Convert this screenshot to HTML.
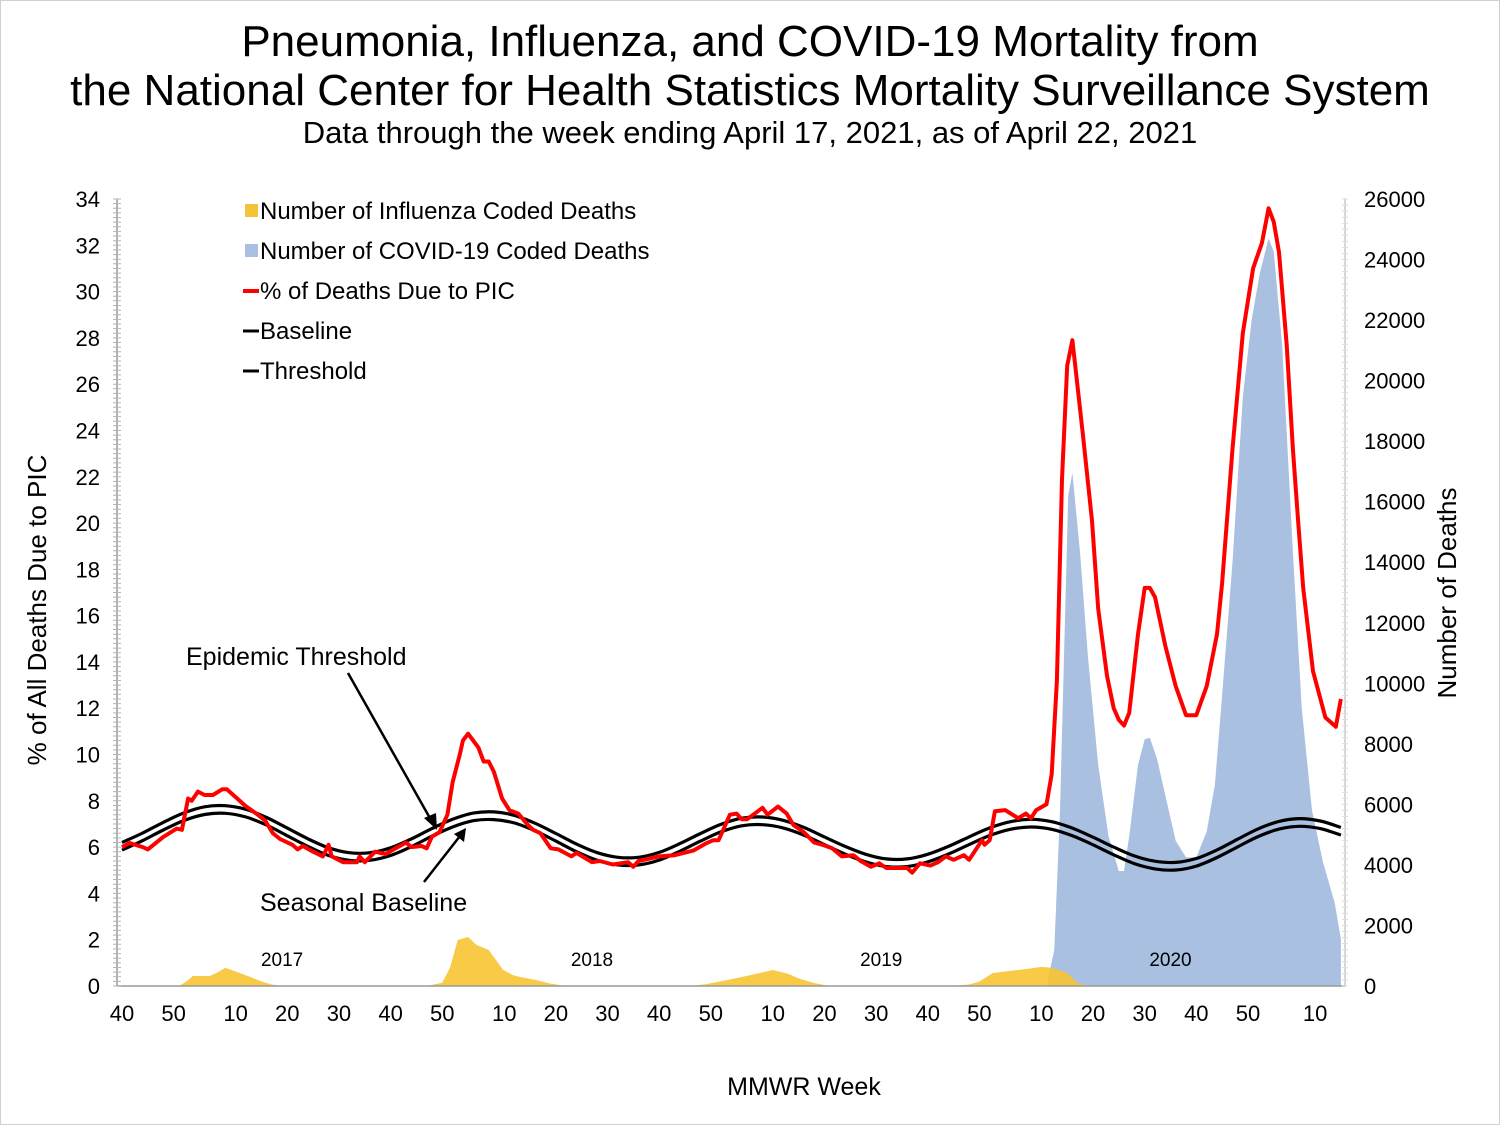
<!DOCTYPE html>
<html><head><meta charset="utf-8">
<style>
html,body{margin:0;padding:0;background:#fff;}
svg{display:block;font-family:"Liberation Sans",Arial,sans-serif;}
</style></head>
<body>
<svg id="chart" width="1500" height="1125" viewBox="0 0 1500 1125" xmlns="http://www.w3.org/2000/svg">
<rect x="0.5" y="0.5" width="1499" height="1124" fill="#fff" stroke="#d0d0d0"/>
<text x="750" y="56" text-anchor="middle" font-size="44">Pneumonia, Influenza, and COVID-19 Mortality from</text>
<text x="750" y="105" text-anchor="middle" font-size="44">the National Center for Health Statistics Mortality Surveillance System</text>
<text x="750" y="143" text-anchor="middle" font-size="31">Data through the week ending April 17, 2021, as of April 22, 2021</text>
<g id="areas"></g>
<g id="lines"></g>
<g id="axes"></g>
<g font-size="24">
  <rect x="245" y="204" width="13" height="13" fill="#F5C33A"/>
  <text x="260" y="219">Number of Influenza Coded Deaths</text>
  <rect x="245" y="244" width="13" height="13" fill="#A9C0E0"/>
  <text x="260" y="259">Number of COVID-19 Coded Deaths</text>
  <line x1="243" y1="291" x2="259" y2="291" stroke="#f00" stroke-width="4"/>
  <text x="260" y="299">% of Deaths Due to PIC</text>
  <line x1="243" y1="331" x2="259" y2="331" stroke="#000" stroke-width="3"/>
  <text x="260" y="339">Baseline</text>
  <line x1="243" y1="371" x2="259" y2="371" stroke="#000" stroke-width="3"/>
  <text x="260" y="379">Threshold</text>
</g>
<g>
  <text x="186" y="665" font-size="25">Epidemic Threshold</text>
  <line x1="348" y1="673" x2="431" y2="820" stroke="#000" stroke-width="2.5"/>
  <polygon points="437,830 424,818 436,813" fill="#000"/>
  <text x="260" y="911" font-size="25">Seasonal Baseline</text>
  <line x1="424" y1="882" x2="460" y2="836" stroke="#000" stroke-width="2.5"/>
  <polygon points="466,828 454,834 464,842" fill="#000"/>
</g>
<text x="804" y="1095" text-anchor="middle" font-size="25">MMWR Week</text>
<text transform="translate(46,610) rotate(-90)" text-anchor="middle" font-size="26">% of All Deaths Due to PIC</text>
<text transform="translate(1456,593) rotate(-90)" text-anchor="middle" font-size="26">Number of Deaths</text>
</svg>
<script>
// ---- data (week index 0 = 2016 week 40) ----
const xTickWeeks = [0,10,22,32,42,52,62,74,84,94,104,114,126,136,146,156,166,178,188,198,208,218,231];
const xTickLabels = ["40","50","10","20","30","40","50","10","20","30","40","50","10","20","30","40","50","10","20","30","40","50","10"];
const yearWeeks = [31,91,147,203];
const yearLabels = ["2017","2018","2019","2020"];
const leftTicks = [0,2,4,6,8,10,12,14,16,18,20,22,24,26,28,30,32,34];
const rightTicks = [0,2000,4000,6000,8000,10000,12000,14000,16000,18000,20000,22000,24000,26000];

const picWeeks = [0,1.5,4,5,8,10.6,11.6,12.8,13.5,14.7,16,17.6,19.4,20.3,22.3,23.8,26,27.7,29.2,30.6,33,34,35,37,38.9,40,40.6,42.8,45.5,46,47,49,51,53,55,56,58,59,60,61.5,63,64,65.4,66,67,69,70,71,72,73.6,75,76.7,78.6,79.6,81,83,84.5,87,88,91,92.5,95,98,99,100,104,107,110.6,113,114.5,115.5,117.7,119,120,121,124,125,127,128.7,130,132,134,135.6,137.5,139.4,141.6,143,145,146.6,148,152,153,154.5,156.5,158,159.5,161,163,164,166.5,167,168,169,171,173.5,175,176,177,179,180,181,182,183,184,186,187.8,189,190.7,192,193,194,195,196.7,198,199,200,202,204,206,208,210,212,213,215,217,219,220.7,222,223,224,225.5,226.7,227.7,228.7,230.6,233,235,236];
const picValues = [6.0,6.18,6.0,5.9,6.44,6.8,6.75,8.1,8.0,8.4,8.25,8.25,8.5,8.5,8.1,7.8,7.45,7.15,6.6,6.35,6.1,5.9,6.05,5.8,5.6,6.1,5.6,5.35,5.35,5.6,5.35,5.8,5.7,5.95,6.2,6.0,6.05,5.95,6.45,6.65,7.4,8.8,10.0,10.6,10.9,10.3,9.7,9.7,9.25,8.1,7.6,7.45,6.95,6.75,6.6,5.95,5.9,5.6,5.75,5.35,5.4,5.25,5.35,5.15,5.4,5.6,5.65,5.85,6.15,6.3,6.3,7.4,7.45,7.2,7.2,7.7,7.4,7.75,7.45,6.95,6.65,6.2,6.1,5.95,5.6,5.65,5.4,5.15,5.3,5.1,5.1,4.9,5.3,5.2,5.35,5.6,5.45,5.65,5.45,6.3,6.1,6.3,7.55,7.6,7.25,7.45,7.25,7.6,7.85,9.15,13.2,21.9,26.8,27.9,23.9,20.1,16.3,13.4,12.0,11.5,11.25,11.8,15.2,17.2,17.2,16.8,14.7,12.95,11.7,11.7,12.95,15.2,17.4,23.2,28.2,31.0,32.1,33.6,33.0,31.7,27.7,23.2,20.1,17.2,13.6,11.6,11.2,12.4];

const baseWeeks = [0,4,8,12,16,20,24,28,32,36,40,44,48,52,56,60,64,68,72,76,80,84,88,92,96,100,104,108,112,116,120,124,128,132,136,140,144,148,152,156,160,164,168,172,176,180,184,188,192,196,200,204,208,212,216,220,224,228,232,236];
const baselineValues = [5.87,6.28,6.74,7.15,7.41,7.46,7.30,6.95,6.49,6.03,5.64,5.43,5.43,5.64,6.02,6.47,6.87,7.14,7.19,7.04,6.70,6.26,5.80,5.43,5.23,5.23,5.44,5.82,6.26,6.66,6.92,6.97,6.83,6.52,6.11,5.70,5.36,5.16,5.16,5.36,5.70,6.11,6.50,6.77,6.87,6.77,6.49,6.10,5.67,5.29,5.06,5.01,5.18,5.55,6.01,6.46,6.78,6.90,6.80,6.52];
const thresholdValues = [6.20,6.61,7.07,7.48,7.74,7.79,7.63,7.28,6.82,6.36,5.97,5.76,5.76,5.97,6.35,6.80,7.20,7.47,7.52,7.37,7.03,6.59,6.13,5.76,5.56,5.56,5.77,6.15,6.59,6.99,7.25,7.30,7.16,6.85,6.44,6.03,5.69,5.49,5.49,5.69,6.03,6.44,6.83,7.10,7.20,7.10,6.82,6.43,6.00,5.62,5.39,5.34,5.51,5.88,6.34,6.79,7.11,7.23,7.13,6.85];

const covidWeeks = [179,180.5,181.6,183.2,184,185.5,187,189,191,193,194,195,196.7,198,199,200.4,202,204,206,208,210,211.6,213,215,217,218.7,220.3,222,223,224.6,226.7,228.4,230.4,232.5,234.8,236];
const covidDeaths = [0,1200,5800,16200,16950,14300,10900,7300,4950,3800,3800,4950,7300,8150,8200,7500,6300,4800,4250,4250,5100,6650,9600,14000,19450,22000,23550,24700,24250,21200,14350,9200,5800,4100,2750,1550];

const fluWeeks = [0,11,12.5,13.7,17,18.5,20,22,24.8,27,29,31,59,62,63.5,65,67,68.7,71,73.8,75.7,77,80,83,86,110,113,119,123.5,126,129,131,134,137,160,164,166,168.6,172,176,178,180,183,185,187,236];
const fluDeaths = [0,0,150,330,330,450,600,480,300,150,50,0,0,110,600,1520,1620,1350,1190,530,360,300,200,80,0,0,60,260,430,530,400,250,100,0,0,50,150,430,500,580,630,600,430,100,0,0];

// ---- scales ----
const X0 = 122, XSTEP = 5.165, Y0 = 986, YTOP = 199;
function xs(w){ return X0 + w*XSTEP; }
function yL(v){ return Y0 - v*(Y0-YTOP)/34; }
function yR(d){ return Y0 - d*(Y0-YTOP)/26000; }
const NS = "http://www.w3.org/2000/svg";
function mk(tag, parent){ const e=document.createElementNS(NS,tag); parent.appendChild(e); return e; }

const areas = document.getElementById('areas');
const lines = document.getElementById('lines');
const axes = document.getElementById('axes');

function areaPath(ws, vs){
  let d = "M"+xs(ws[0]).toFixed(1)+","+Y0;
  for(let i=0;i<ws.length;i++) d += " L"+xs(ws[i]).toFixed(1)+","+yR(vs[i]).toFixed(1);
  d += " L"+xs(ws[ws.length-1]).toFixed(1)+","+Y0+" Z";
  return d;
}
function linePath(ws, vs){
  let d="";
  for(let i=0;i<ws.length;i++) d += (i?" L":"M")+xs(ws[i]).toFixed(1)+","+yL(vs[i]).toFixed(1);
  return d;
}
function smoothPath(ws, vs){
  const p = ws.map((w,i)=>[xs(w), yL(vs[i])]);
  let d = "M"+p[0][0].toFixed(1)+","+p[0][1].toFixed(1);
  for(let i=0;i<p.length-1;i++){
    const p0=p[Math.max(0,i-1)], p1=p[i], p2=p[i+1], p3=p[Math.min(p.length-1,i+2)];
    const c1=[p1[0]+(p2[0]-p0[0])/6, p1[1]+(p2[1]-p0[1])/6];
    const c2=[p2[0]-(p3[0]-p1[0])/6, p2[1]-(p3[1]-p1[1])/6];
    d += " C"+c1[0].toFixed(1)+","+c1[1].toFixed(1)+" "+c2[0].toFixed(1)+","+c2[1].toFixed(1)+" "+p2[0].toFixed(1)+","+p2[1].toFixed(1);
  }
  return d;
}

// covid area
const cov = mk('path', areas);
cov.setAttribute('d', areaPath(covidWeeks, covidDeaths));
cov.setAttribute('fill', '#A9C0E0');


// flu area
const flu = mk('path', areas);
flu.setAttribute('d', areaPath(fluWeeks, fluDeaths));
flu.setAttribute('fill', '#F7C431');
flu.setAttribute('fill-opacity', '0.9');



// threshold & baseline
const thr = mk('path', lines);
thr.setAttribute('d', smoothPath(baseWeeks, thresholdValues));
thr.setAttribute('fill', 'none'); thr.setAttribute('stroke', '#000'); thr.setAttribute('stroke-width', '3.2');


const bas = mk('path', lines);
bas.setAttribute('d', smoothPath(baseWeeks, baselineValues));
bas.setAttribute('fill', 'none'); bas.setAttribute('stroke', '#000'); bas.setAttribute('stroke-width', '3.2');


// PIC line
const pic = mk('path', lines);
pic.setAttribute('d', linePath(picWeeks, picValues));
pic.setAttribute('fill', 'none'); pic.setAttribute('stroke', '#FF0000'); pic.setAttribute('stroke-width', '4');
pic.setAttribute('stroke-linejoin', 'round');



// axes lines
const la = mk('line', axes);
la.setAttribute('x1', 117); la.setAttribute('x2', 117); la.setAttribute('y1', YTOP); la.setAttribute('y2', Y0);
la.setAttribute('stroke', '#999'); la.setAttribute('stroke-width', '1.5');


const ra = mk('line', axes);
ra.setAttribute('x1', 1345); ra.setAttribute('x2', 1345); ra.setAttribute('y1', YTOP); ra.setAttribute('y2', Y0);
ra.setAttribute('stroke', '#ccc'); ra.setAttribute('stroke-width', '1.5');


const ba = mk('line', axes);
ba.setAttribute('x1', 117); ba.setAttribute('x2', 1345); ba.setAttribute('y1', Y0); ba.setAttribute('y2', Y0);
ba.setAttribute('stroke', '#999'); ba.setAttribute('stroke-width', '1.5');



// minor ticks left & right
let mt = "";
for(let k=0;k<=170;k++){ const y=(Y0 - k*(Y0-YTOP)/170).toFixed(1); mt += "M113,"+y+" L121,"+y+" "; }
const mtp = mk('path', axes);
mtp.setAttribute('d', mt); mtp.setAttribute('stroke', '#b5b5b5'); mtp.setAttribute('stroke-width', '1');


let mr = "";
for(let k=0;k<=130;k++){ const y=(Y0 - k*(Y0-YTOP)/130).toFixed(1); mr += "M1342,"+y+" L1348,"+y+" "; }
const mrp = mk('path', axes);
mrp.setAttribute('d', mr); mrp.setAttribute('stroke', '#dcdcdc'); mrp.setAttribute('stroke-width', '1');



// tick labels
leftTicks.forEach(v=>{
  const t = mk('text', axes);
  t.setAttribute('x', 100); t.setAttribute('y', yL(v)+8); t.setAttribute('text-anchor','end'); t.setAttribute('font-size','22');
  t.textContent = v;
  
  
});
rightTicks.forEach(v=>{
  const t = mk('text', axes);
  t.setAttribute('x', 1364); t.setAttribute('y', yR(v)+8); t.setAttribute('font-size','22');
  t.textContent = v;
  
  
});
xTickWeeks.forEach((w,i)=>{
  const t = mk('text', axes);
  t.setAttribute('x', xs(w)); t.setAttribute('y', 1021); t.setAttribute('text-anchor','middle'); t.setAttribute('font-size','22');
  t.textContent = xTickLabels[i];
  
  
});
yearWeeks.forEach((w,i)=>{
  const t = mk('text', axes);
  t.setAttribute('x', xs(w)); t.setAttribute('y', 966); t.setAttribute('text-anchor','middle'); t.setAttribute('font-size','19');
  t.textContent = yearLabels[i];
  
  
});
</script>
</body></html>
